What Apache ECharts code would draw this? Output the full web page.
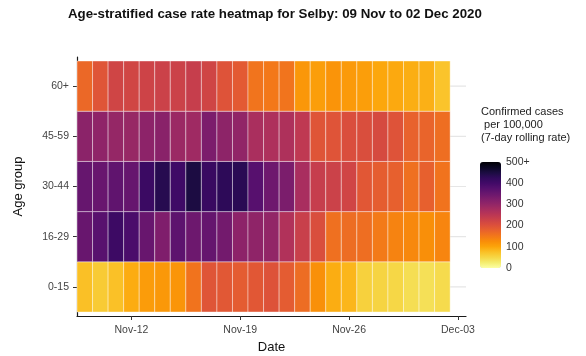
<!DOCTYPE html>
<html><head><meta charset="utf-8">
<script src="https://cdn.jsdelivr.net/npm/echarts@6/dist/echarts.min.js"></script>
<style>html,body{margin:0;padding:0;background:#fff}#c{width:586px;height:356px}</style>
</head><body><div id="c"></div>
<script>
// ---- data ----
const dates = ['2020-11-09','2020-11-10','2020-11-11','2020-11-12','2020-11-13','2020-11-14','2020-11-15','2020-11-16',
  '2020-11-17','2020-11-18','2020-11-19','2020-11-20','2020-11-21','2020-11-22','2020-11-23','2020-11-24',
  '2020-11-25','2020-11-26','2020-11-27','2020-11-28','2020-11-29','2020-11-30','2020-12-01','2020-12-02'];
const ageGroups = ['0-15','16-29','30-44','45-59','60+'];
const rate0_15  = [76,64,75,94,110,114,117,156,195,191,186,192,199,186,164,123,93,85,57,53,50,42,40,46];
const rate16_29 = [352,373,407,389,353,325,366,346,356,339,308,305,301,264,232,206,160,164,163,148,137,132,124,135];
const rate30_44 = [355,352,362,355,410,436,404,449,413,428,432,374,345,330,274,236,228,221,192,184,180,160,180,156];
const rate45_59 = [310,305,298,295,308,312,290,286,328,307,302,272,268,267,246,195,196,205,206,212,198,178,175,162];
const rate60p   = [170,195,222,220,225,228,228,235,222,198,188,155,150,155,115,108,118,112,108,98,96,92,90,72];
const xTickDates  = ['2020-11-12','2020-11-19','2020-11-26','2020-12-03'];
const xTickLabels = ['Nov-12','Nov-19','Nov-26','Dec-03'];
const legendTicks  = [0,100,200,300,400,500];
const legendLabels = ['0','100','200','300','400','500+'];

// ---- build ----
const FONT = 'Liberation Sans, Arial, sans-serif';
const dayNum = s => Date.UTC(+s.slice(0,4), +s.slice(5,7)-1, +s.slice(8,10)) / 864e5;
const rows = [rate0_15, rate16_29, rate30_44, rate45_59, rate60p];
const cells = [];
rows.forEach((arr, yi) => arr.forEach((v, xi) => cells.push([dayNum(dates[xi]), yi, v])));
const xTickDays = xTickDates.map(dayNum);
const xMin = dayNum(dates[0]) - 0.5;
const xMax = xTickDays[xTickDays.length - 1] + 0.52;
const yIdx = ageGroups.map((g, i) => i);
const inferno = ['#FCFFA4','#F4ED70','#F6D746','#FAC127','#FCA50A','#F98E09','#F37819','#E9642B','#DD513A','#CD4347',
  '#BC3754','#A82E5F','#932667','#7F1E6C','#6A176E','#56106E','#420A68','#300A5B','#1B0C41','#0A0722','#000004'];

const chart = echarts.init(document.getElementById('c'));
chart.setOption({
  backgroundColor: '#fff',
  animation: false,
  textStyle: { fontFamily: FONT },
  title: [
    { text: 'Age-stratified case rate heatmap for Selby: 09 Nov to 02 Dec 2020', left: 68, top: 8, padding: 0,
      textStyle: { fontFamily: FONT, fontSize: 13.3, fontWeight: 'bold', color: '#111' } },
    { text: 'Confirmed cases\n per 100,000\n(7-day rolling rate)', left: 481, top: 105, padding: 0,
      textStyle: { fontFamily: FONT, fontSize: 11, fontWeight: 'normal', color: '#222', lineHeight: 13.3 } }
  ],
  grid: [
    { left: 77, right: 586 - 466, top: 57, bottom: 356 - 316, outerBoundsMode: 'none', containLabel: false },
    { left: 480, top: 162, width: 21, height: 106, outerBoundsMode: 'none', containLabel: false }
  ],
  visualMap: {
    type: 'continuous', min: 0, max: 500, dimension: 2, seriesIndex: 1,
    calculable: false, itemWidth: 21, itemHeight: 106, left: 480, top: 162, padding: 0,
    inRange: { color: inferno }, textStyle: { color: 'rgba(0,0,0,0)' }
  },
  xAxis: [
    { type: 'value', gridIndex: 0, min: xMin, max: xMax,
      axisLine: { show: true, onZero: false, lineStyle: { color: '#1a1a1a', width: 1.2 } },
      axisTick: { show: true, customValues: xTickDays, length: 4, lineStyle: { color: '#333' } },
      axisLabel: { customValues: xTickDays, margin: 9, fontSize: 10.5, color: '#444', fontFamily: FONT,
        formatter: v => xTickLabels[xTickDays.indexOf(v)] },
      splitLine: { show: false },
      name: 'Date', nameLocation: 'middle', nameGap: 23,
      nameTextStyle: { fontSize: 13, color: '#111', fontFamily: FONT } },
    { type: 'value', gridIndex: 1, min: 0, max: 1, show: false }
  ],
  yAxis: [
    { type: 'value', gridIndex: 0, min: -0.58, max: 4.58,
      axisLine: { show: true, onZero: false, lineStyle: { color: '#1a1a1a', width: 1.2 } },
      axisTick: { show: true, customValues: yIdx, length: 4, lineStyle: { color: '#333' } },
      axisLabel: { customValues: yIdx, margin: 8, fontSize: 10.5, color: '#444', fontFamily: FONT,
        formatter: v => ageGroups[Math.round(v)] },
      splitLine: { show: false },
      name: 'Age group', nameLocation: 'middle', nameGap: 52, nameRotate: 90,
      nameTextStyle: { fontSize: 13, color: '#111', fontFamily: FONT } },
    { type: 'value', gridIndex: 1, min: 0, max: 500, position: 'right',
      axisLine: { show: false, onZero: false },
      axisTick: { show: true, inside: true, length: 4, customValues: [100,200,300,400], lineStyle: { color: 'rgba(255,255,255,0.8)' } },
      axisLabel: { customValues: legendTicks, margin: 5, fontSize: 10.5, color: '#333', fontFamily: FONT,
        formatter: v => legendLabels[legendTicks.indexOf(v)] },
      splitLine: { show: false } },
    { type: 'value', gridIndex: 1, min: 0, max: 500, position: 'left',
      axisLine: { show: false, onZero: false },
      axisTick: { show: true, inside: true, length: 4, customValues: [100,200,300,400], lineStyle: { color: 'rgba(255,255,255,0.8)' } },
      axisLabel: { show: false }, splitLine: { show: false } }
  ],
  series: [
    { type: 'custom', xAxisIndex: 0, yAxisIndex: 0, z: 1, silent: true,
      data: yIdx.map(i => [xMin, i]),
      renderItem: (params, api) => {
        const y = api.coord([xMin, api.value(1)])[1];
        const cs = params.coordSys;
        return { type: 'line', shape: { x1: cs.x, y1: y, x2: cs.x + cs.width, y2: y },
          style: { stroke: '#e6e6e6', lineWidth: 1.2 } };
      } },
    { type: 'custom', xAxisIndex: 0, yAxisIndex: 0, z: 2,
      data: cells,
      renderItem: (params, api) => {
        const p = api.coord([api.value(0), api.value(1)]);
        const s = api.size([1, 1]);
        return { type: 'rect',
          shape: { x: p[0] - s[0] / 2, y: p[1] - s[1] / 2, width: s[0], height: s[1] },
          style: { fill: api.visual('color'), stroke: 'rgba(255,255,255,0.4)', lineWidth: 1 } };
      } }
  ]
});
</script>
</body></html>
